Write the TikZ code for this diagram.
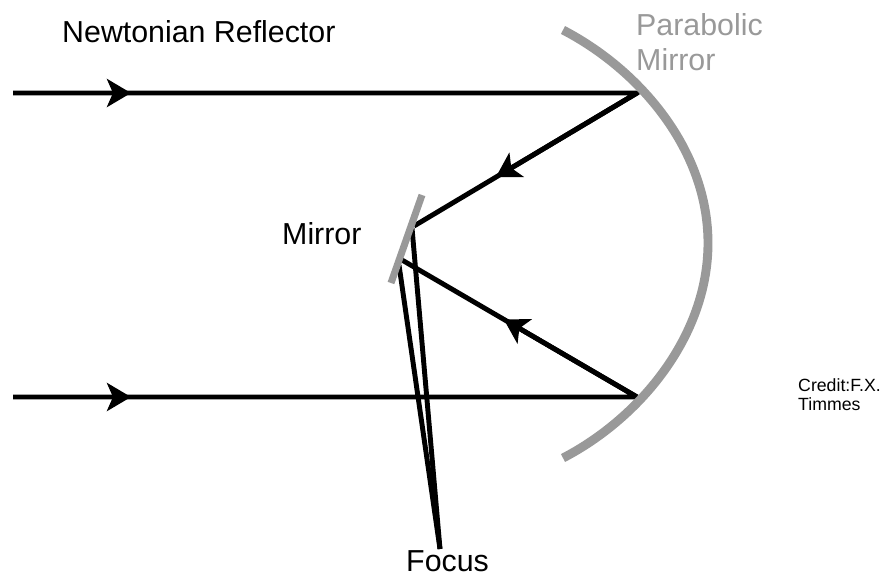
\documentclass[tikz,border=0pt]{standalone}
\usepackage{fontspec}
\setmainfont{Liberation Sans}
\usetikzlibrary{arrows.meta,calc}

\begin{document}
\begin{tikzpicture}[
        x=0.03cm, y=-0.03cm,
        label/.style={inner sep=0pt, anchor=west, align=left, font=\fontsize{25.9pt}{30pt}\selectfont},
        optic/.style={draw=black!40, line width=7.6pt},
        ray/.style={draw=black, line width=4.2pt},
        arrow/.style={ray, -{Stealth[length=0.72cm, width=0.84cm, inset=0.18cm]}}
    ]
    \useasboundingbox (0,0) rectangle (886,575);
    \node[label] (title) at (62,32) {Newtonian Reflector};
    \node[label, text=black!40] (parabolic) at (636,42) {Parabolic\\Mirror};
    \node[label] (flat) at (282,234) {Mirror};
    \node[label] (focuslabel) at (406,561) {Focus};
    \node[label, font=\fontsize{15.1pt}{16.2pt}\selectfont] (credit) at (798,395) {Credit:F.X.\\Timmes};
    \coordinate (top) at (563,30);
    \coordinate (vertex) at (708,243);
    \coordinate (bottom) at (563,458);
    \coordinate (flattop) at (422,195);
    \coordinate (flatbottom) at (391,283);
    \coordinate (starta) at (13,93);
    \coordinate (mida) at (131,93);
    \coordinate (hita) at (637,93);
    \coordinate (bouncea) at (414,226);
    \coordinate (starta2) at (412,228);
    \coordinate (startb) at (13,397);
    \coordinate (midb) at (131,397);
    \coordinate (hitb) at (637,397);
    \coordinate (bounceb) at (402,260);
    \coordinate (startb2) at (399,265);
    \coordinate (focus) at (440,549);
    \draw[ray] (starta) -- (hita) -- (bouncea);
    \draw[arrow] (starta) -- (mida);
    \draw[arrow] (hita) -- ($(hita)!0.633!(bouncea)$);
    \draw[ray] (startb) -- (hitb) -- (bounceb);
    \draw[arrow] (startb) -- (midb);
    \draw[arrow] (hitb) -- ($(hitb)!0.567!(bounceb)$);
    \draw[ray] (starta2) -- (focus);
    \draw[ray] (startb2) -- (focus);
    \draw[optic] (top) .. controls (640,70) and (708,150) .. (vertex) .. controls (708,336) and (640,418) .. (bottom);
    \draw[optic, line width=6pt] (flattop) -- (flatbottom);
    \end{tikzpicture}
\end{document}
